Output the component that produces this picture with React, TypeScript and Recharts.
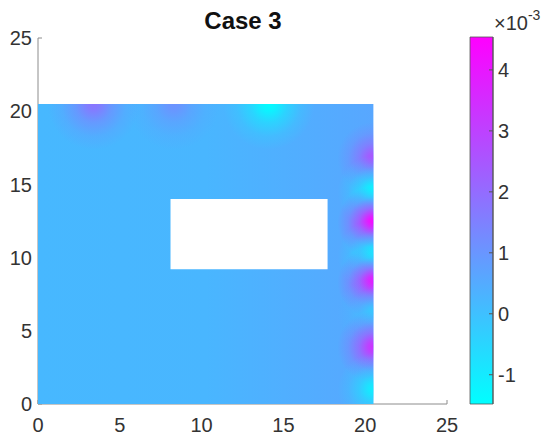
import React from "react";
import { ComposedChart, XAxis, YAxis, ReferenceArea, Scatter } from "recharts";

// field values are in units of 1e-3
const axisTicks = [0, 5, 10, 15, 20, 25];
const colorTicks = [-1, 0, 1, 2, 3, 4];
const colorRange = [-1.48, 4.54];

const fieldX = [0, 20.5];
const fieldY = [0, 20.5];
const holeX = [8.1, 17.7];
const holeY = [9.2, 14.0];

// background level, left / middle / right
const baseLevels = [0.2, 0.25, 0.6];

// peaks sitting on the right edge (x = 20.5)
const rightSpotY = [16.8, 14.5, 12.4, 10.1, 8.3, 6.2, 3.9, 1.0];
const rightSpotV = [2.6, -1.4, 4.54, -1.4, 4.2, -0.2, 3.4, -1.1];

// peaks sitting on the top edge (y = 20.5)
const topSpotX = [3.4, 8.3, 14.1];
const topSpotV = [1.8, 1.1, -1.45];

const FONT = "'Liberation Sans', Arial, Helvetica, sans-serif";
const TEXT = "#333333";
const AXIS = "#8c8c8c";

function cool(v: number) {
  const t = Math.max(0, Math.min(1, (v - colorRange[0]) / (colorRange[1] - colorRange[0])));
  return `rgb(${Math.round(255 * t)},${Math.round(255 * (1 - t))},255)`;
}

const spots = [
  ...rightSpotY.map((y, i) => ({ x: fieldX[1], y, v: rightSpotV[i], edge: "right" })),
  ...topSpotX.map((x, i) => ({ x, y: fieldY[1], v: topSpotV[i], edge: "top" })),
];

const barRows = [{ x: 0 }, { x: 1 }];

function Spot(props: any) {
  const { cx, cy, payload } = props;
  if (cx == null || cy == null || !payload) return null;
  const r = payload.edge === "right" ? 36 : 46;
  const id = `spot-${payload.edge}-${String(payload.x + "_" + payload.y).replace(/\./g, "p")}`;
  const c = cool(payload.v);
  const d =
    payload.edge === "right"
      ? `M${cx},${cy - r} A${r},${r} 0 0 0 ${cx},${cy + r} Z`
      : `M${cx - r},${cy} A${r},${r} 0 0 0 ${cx + r},${cy} Z`;
  return (
    <g>
      <defs>
        <radialGradient id={id} gradientUnits="userSpaceOnUse" cx={cx} cy={cy} r={r}>
          <stop offset="0" stopColor={c} stopOpacity={1} />
          <stop offset="0.15" stopColor={c} stopOpacity={0.85} />
          <stop offset="0.4" stopColor={c} stopOpacity={0.45} />
          <stop offset="0.7" stopColor={c} stopOpacity={0.15} />
          <stop offset="1" stopColor={c} stopOpacity={0} />
        </radialGradient>
      </defs>
      <path d={d} fill={`url(#${id})`} />
    </g>
  );
}

function FieldPlot() {
  return (
    <ComposedChart width={460} height={442} margin={{ top: 38, right: 13, bottom: 0, left: 0 }}>
      <defs>
        <linearGradient id="baseFill" x1="0" y1="0" x2="1" y2="0">
          <stop offset="0" stopColor={cool(baseLevels[0])} />
          <stop offset="0.5" stopColor={cool(baseLevels[1])} />
          <stop offset="1" stopColor={cool(baseLevels[2])} />
        </linearGradient>
      </defs>
      <XAxis
        type="number"
        dataKey="x"
        domain={[0, 25]}
        ticks={axisTicks}
        allowDataOverflow
        height={38}
        stroke={AXIS}
        tickSize={-4}
        tickMargin={18}
        tick={{ fill: TEXT, fontSize: 20, fontFamily: FONT }}
      />
      <YAxis
        type="number"
        dataKey="y"
        domain={[0, 25]}
        ticks={axisTicks}
        allowDataOverflow
        width={38}
        stroke={AXIS}
        tickSize={-4}
        tickMargin={10}
        tick={{ fill: TEXT, fontSize: 20, fontFamily: FONT }}
      />
      <ReferenceArea
        x1={fieldX[0]}
        x2={fieldX[1]}
        y1={fieldY[0]}
        y2={fieldY[1]}
        fill="url(#baseFill)"
        fillOpacity={1}
        stroke="none"
        zIndex={550}
      />
      <Scatter data={spots} shape={(p: any) => <Spot {...p} />} isAnimationActive={false} zIndex={600} />
      <ReferenceArea
        x1={holeX[0]}
        x2={holeX[1]}
        y1={holeY[0]}
        y2={holeY[1]}
        fill="#ffffff"
        fillOpacity={1}
        stroke="none"
        zIndex={700}
      />
    </ComposedChart>
  );
}

function ColorBar() {
  return (
    <ComposedChart width={90} height={442} data={barRows} margin={{ top: 37, right: 0, bottom: 38, left: 10 }}>
      <defs>
        <linearGradient id="cbFill" x1="0" y1="1" x2="0" y2="0">
          <stop offset="0" stopColor={cool(colorRange[0])} />
          <stop offset="1" stopColor={cool(colorRange[1])} />
        </linearGradient>
      </defs>
      <XAxis type="number" dataKey="x" domain={[0, 1]} hide />
      <YAxis
        type="number"
        orientation="right"
        domain={colorRange}
        ticks={colorTicks}
        allowDataOverflow
        width={57}
        stroke="#555"
        tickSize={-4}
        tickMargin={9}
        tick={{ fill: TEXT, fontSize: 20, fontFamily: FONT, textAnchor: "start" }}
      />
      <ReferenceArea
        x1={0}
        x2={1}
        y1={colorRange[0]}
        y2={colorRange[1]}
        fill="url(#cbFill)"
        fillOpacity={1}
        stroke="#555"
        strokeWidth={0.8}
        ifOverflow="visible"
      />
    </ComposedChart>
  );
}

export default function App() {
  return (
    <div style={{ position: "absolute", left: 0, top: 0, width: 550, height: 442, background: "#fff", fontFamily: FONT }}>
      <div
        style={{
          position: "absolute",
          left: 0,
          width: 486,
          top: 7,
          textAlign: "center",
          fontSize: 24,
          fontWeight: "bold",
          color: "#111",
        }}
      >
        Case 3
      </div>
      <div style={{ position: "absolute", left: 0, top: 0 }}>
        <FieldPlot />
      </div>
      <div style={{ position: "absolute", left: 460, top: 0 }}>
        <ColorBar />
      </div>
      <div style={{ position: "absolute", left: 494, top: 9, fontSize: 20, color: TEXT }}>
        ×10<sup style={{ fontSize: 14, position: "relative", top: -2 }}>-3</sup>
      </div>
    </div>
  );
}
